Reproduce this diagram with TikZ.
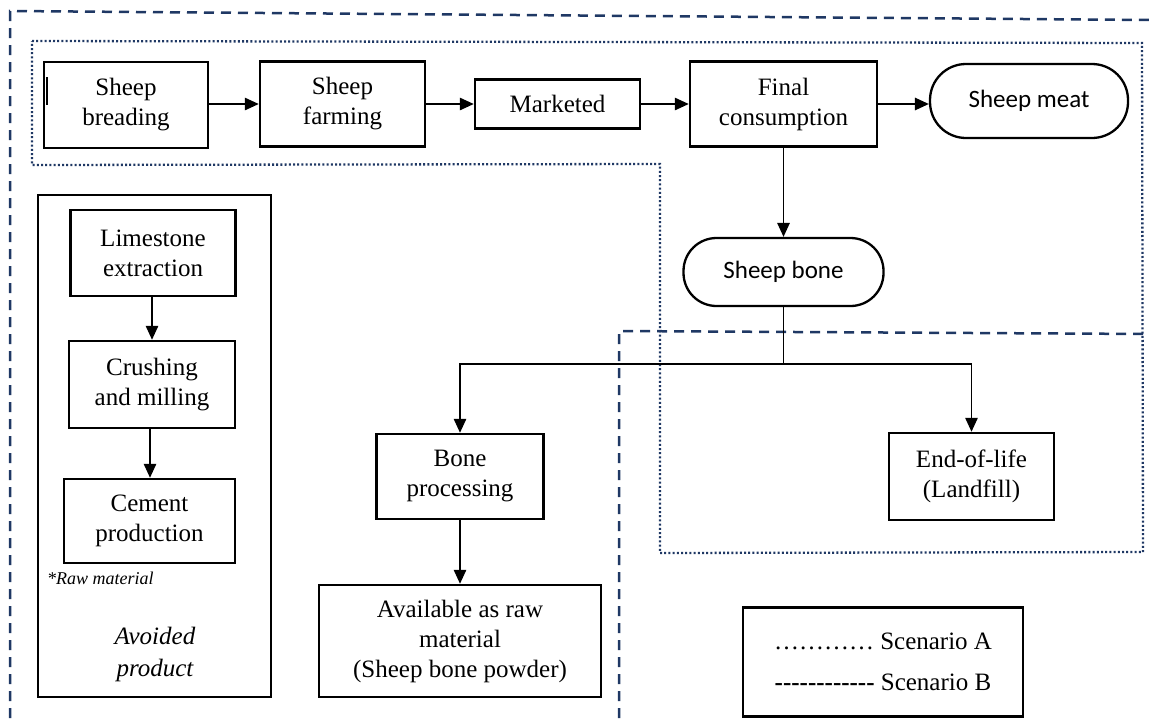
\documentclass[tikz,border=0pt]{standalone}
\usepackage{fontspec}
\setmainfont{Liberation Serif}
\newfontfamily\calib{Carlito}
\usetikzlibrary{arrows.meta}
\definecolor{navy}{HTML}{1F3864}
\newcommand\hyrun{\mbox{-}\mbox{-}\mbox{-}\mbox{-}\mbox{-}\mbox{-}\mbox{-}\mbox{-}\mbox{-}\mbox{-}\mbox{-}\mbox{-}}
\tikzset{
  box/.style={draw=black, line width=2.5pt, align=center, inner sep=0pt,
    font=\fontsize{25}{30}\selectfont},
  term/.style={box, line width=2.3pt, font=\calib\fontsize{25}{30}\selectfont},
  arr/.style={-{Triangle[length=14pt,width=12.5pt]}, line width=1.4pt},
  plainline/.style={line width=1.4pt},
  scenA/.style={navy, line width=2.3pt, dash pattern=on 2pt off 2.2pt},
  scenB/.style={navy, line width=2.5pt, dash pattern=on 10pt off 7pt},
}
\begin{document}
\begin{tikzpicture}[x=1pt,y=-1pt]
\useasboundingbox (0,0) rectangle (1150,718);
% scenario boundaries
\draw[scenB] (10,718) -- (10,11) -- (1150,20);
\draw[scenB] (619,718) -- (619,331) -- (1150,334);
\draw[scenA] (32,41) -- (1142,43) -- (1143,552) -- (660,553) -- (660,164) -- (32,165) -- cycle;

% avoided product container
\node[draw=black, line width=2.5pt, minimum width=233pt, minimum height=502pt, inner sep=0pt] (avbox) at (154.5,446) {};

% top row
\node[box, minimum width=164pt, minimum height=86pt] (breed) at (126,105) {Sheep\\breading};
\node[box, minimum width=165pt, minimum height=85pt] (farm) at (342.5,104) {Sheep\\farming};
\node[box, minimum width=165pt, minimum height=49pt] (market) at (557.5,104) {Marketed};
\node[box, minimum width=187pt, minimum height=85pt] (final) at (783.5,104) {Final\\consumption};
\node[term, rounded corners=36pt, minimum width=198pt, minimum height=74pt] (meat) at (1029,101) {Sheep meat};
\draw[line width=1.2pt] (47,77) -- (47,105);

% bone
\node[term, rounded corners=33pt, minimum width=200pt, minimum height=68pt] (bone) at (783.5,272) {Sheep bone};
\node[box, minimum width=167pt, minimum height=85pt] (bproc) at (460,476.5) {Bone\\processing};
\node[box, minimum width=282pt, minimum height=112pt] (avail) at (460,641) {Available as raw\\material\\(Sheep bone powder)};
\node[box, minimum width=165pt, minimum height=87pt] (eol) at (971.5,476.5) {End-of-life\\(Landfill)};
\coordinate (split) at (783.5,364);

% avoided chain
\node[box, minimum width=165pt, minimum height=86pt] (lime) at (153,253) {Limestone\\extraction};
\node[box, minimum width=166pt, minimum height=87pt] (crush) at (152,384.5) {Crushing\\and milling};
\node[box, minimum width=171pt, minimum height=84pt] (cement) at (149.5,521) {Cement\\production};
\node[anchor=west, inner sep=0pt, font=\itshape\fontsize{18}{20}\selectfont] (raw) at (47,578) {*Raw material};
\node[align=center, inner sep=0pt, font=\itshape\fontsize{25}{32}\selectfont] (avoid) at (155,654) {Avoided\\product};

% legend
\node[draw=black, line width=2.3pt, minimum width=280pt, minimum height=109pt, align=center, inner sep=0pt,
  font=\fontsize{25}{41}\selectfont] (legend) at (883,662) {…………\ Scenario A\\\textbf{\hyrun}\ Scenario B};

% connectors
\draw[arr] (breed.east |- farm.west) -- (farm.west);
\draw[arr] (farm.east) -- (market.west);
\draw[arr] (market.east) -- (final.west);
\draw[arr] (final.east) -- (final.east -| meat.west);
\draw[arr] (final.south) -- (bone.north);
\draw[plainline] (bone.south) -- (split);
\draw[arr] (split) -| (bproc.north);
\draw[arr] (split) -| (eol.north);
\draw[arr] (bproc.south) -- (avail.north);
\draw[arr] (lime.south -| crush.north) -- (crush.north);
\draw[arr] (crush.south -| 150,0) -- (cement.north -| 150,0);
\end{tikzpicture}
\end{document}
